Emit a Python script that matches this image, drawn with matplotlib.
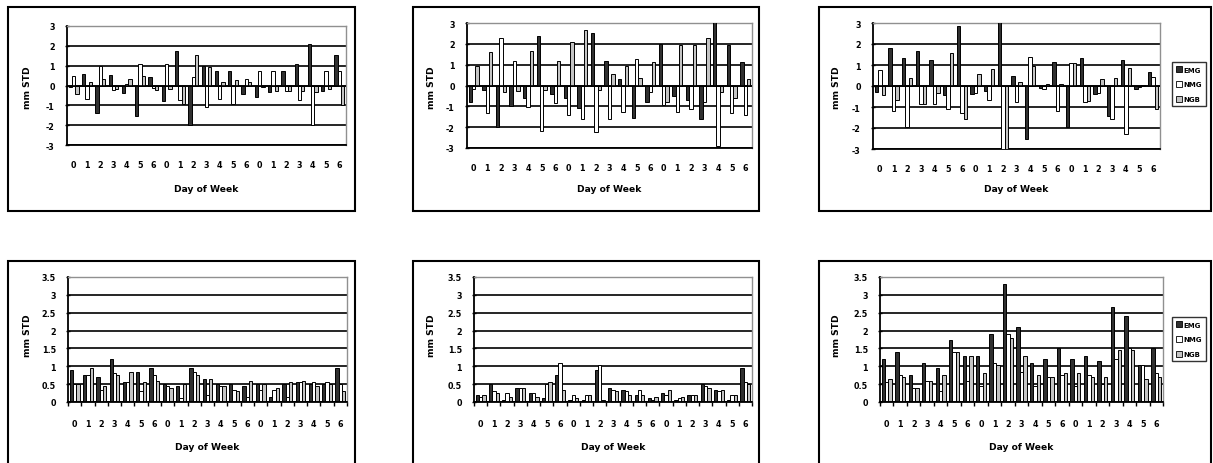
import matplotlib
matplotlib.use("Agg")
import matplotlib.pyplot as plt
from matplotlib.patches import Rectangle, Patch
import numpy as np

# ---------------- data ----------------
days = ["0", "1", "2", "3", "4", "5", "6"] * 3
series_names = ["EMG", "NMG", "NGB"]

# top row (signed deviations, mm STD)
p1_emg = [-0.1, 0.6, -1.4, 0.55, -0.4, -1.55, 0.45, -0.8, 1.75, -2.0, 1.0, 0.75, 0.75, -0.45, -0.6, -0.35, 0.75, 1.1, 2.1, -0.3, 1.55]
p1_nmg = [0.47, -0.7, 1.0, -0.25, 0.1, 1.1, -0.15, 1.1, -0.75, 0.45, -1.1, -0.7, -0.95, 0.35, 0.75, 0.75, -0.3, -0.75, -2.0, 0.75, 0.75]
p1_ngb = [-0.45, 0.2, 0.35, -0.2, 0.35, 0.5, -0.25, -0.2, -0.95, 1.55, 0.95, 0.2, 0.3, 0.2, -0.1, -0.3, -0.3, -0.3, -0.35, -0.2, -1.0]

p2_emg = [-0.8, -0.2, -2.0, -1.0, -0.6, 2.4, -0.4, -0.6, -1.1, 2.5, 1.2, 0.3, -1.55, -0.8, 2.0, -0.5, -0.7, -1.6, 3.05, 1.95, 1.15]
p2_nmg = [-0.15, -1.3, 2.3, 1.2, -1.05, -2.2, -0.85, -1.4, -1.6, -2.25, -1.6, -1.25, 1.25, -0.3, -0.95, -1.25, -1.15, -0.8, -2.9, -1.3, -1.4]
p2_ngb = [0.95, 1.6, -0.3, -0.25, 1.65, -0.2, 1.2, 2.1, 2.65, -0.2, 0.55, 0.95, 0.35, 1.15, -0.8, 1.95, 1.95, 2.3, -0.3, -0.6, 0.3]

p3_emg = [-0.3, 1.8, 1.35, 1.65, 1.25, -0.45, 2.85, -0.4, -0.25, 3.1, 0.5, -2.5, -0.1, 1.15, -1.95, 1.35, -0.4, -1.45, 1.25, -0.15, 0.65]
p3_nmg = [0.75, -1.2, -1.95, -0.85, -0.85, -1.1, -1.3, -0.35, -0.65, -3.0, -0.75, 1.4, -0.15, -1.2, 1.1, -0.75, -0.35, -1.55, -2.3, -0.05, 0.45]
p3_ngb = [-0.45, -0.65, 0.4, -0.85, -0.35, 1.55, -1.55, 0.55, 0.8, -3.0, 0.2, 0.95, 0.1, 0.1, 1.1, -0.7, 0.35, 0.4, 0.85, 0.05, -1.1]

# bottom row (absolute values, mm STD)
p4_emg = [0.9, 0.75, 0.7, 1.2, 0.55, 0.85, 0.95, 0.5, 0.45, 0.95, 0.65, 0.5, 0.5, 0.45, 0.5, 0.15, 0.5, 0.55, 0.5, 0.5, 0.95]
p4_nmg = [0.5, 0.75, 0.35, 0.8, 0.55, 0.3, 0.75, 0.45, 0.1, 0.85, 0.2, 0.45, 0.35, 0.15, 0.35, 0.35, 0.15, 0.55, 0.55, 0.55, 0.5]
p4_ngb = [0.5, 0.95, 0.45, 0.75, 0.85, 0.55, 0.6, 0.4, 0.5, 0.75, 0.65, 0.45, 0.3, 0.6, 0.5, 0.4, 0.55, 0.6, 0.45, 0.5, 0.3]

p5_emg = [0.2, 0.5, 0.05, 0.4, 0.25, 0.1, 0.75, 0.05, 0.05, 0.9, 0.4, 0.35, 0.2, 0.1, 0.25, 0.05, 0.2, 0.5, 0.35, 0.05, 0.95]
p5_nmg = [0.15, 0.3, 0.25, 0.4, 0.25, 0.5, 1.1, 0.2, 0.2, 1.05, 0.35, 0.3, 0.35, 0.05, 0.2, 0.1, 0.2, 0.45, 0.3, 0.2, 0.55]
p5_ngb = [0.2, 0.25, 0.15, 0.4, 0.15, 0.55, 0.35, 0.1, 0.2, 0.05, 0.3, 0.2, 0.2, 0.15, 0.35, 0.15, 0.2, 0.4, 0.35, 0.2, 0.5]

p6_emg = [1.2, 1.4, 0.75, 1.1, 0.95, 1.75, 1.3, 1.3, 1.9, 3.3, 2.1, 1.1, 1.2, 1.5, 1.2, 1.3, 1.15, 2.65, 2.4, 1.05, 1.5]
p6_nmg = [0.55, 0.75, 0.4, 0.6, 0.3, 1.4, 0.6, 0.45, 1.1, 1.9, 0.85, 0.45, 0.7, 0.75, 0.45, 0.75, 0.5, 1.2, 1.5, 1.05, 0.8]
p6_ngb = [0.65, 0.7, 0.4, 0.6, 0.75, 1.4, 1.3, 0.8, 1.05, 1.8, 1.3, 0.75, 0.7, 0.8, 0.8, 0.7, 0.7, 1.45, 1.45, 0.65, 0.7]

top_ticks = [-3, -2, -1, 0, 1, 2, 3]
bottom_ticks = [0, 0.5, 1, 1.5, 2, 2.5, 3, 3.5]
bottom_ticklabels = ["0", "0.5", "1", "1.5", "2", "2.5", "3", "3.5"]

# ---------------- layout ----------------
W, H = 1213, 464
fig = plt.figure(figsize=(W / 100, H / 100), dpi=100)
fig.patch.set_facecolor("white")

FONT = "DejaVu Sans"
colors = ["#303030", "#ffffff", "#c4c4c4"]


def rect(x0, y0, x1, y1):
    return [x0 / W, 1 - y1 / H, (x1 - x0) / W, (y1 - y0) / H]


panels = [
    dict(data=(p1_emg, p1_nmg, p1_ngb), plot=(67, 27, 346, 146), frame=(8, 8, 355, 212), top=True, legend=False, ylx=27, yly=88, xly=190),
    dict(data=(p2_emg, p2_nmg, p2_ngb), plot=(467, 24, 752, 149), frame=(413, 8, 759, 212), top=True, legend=False, ylx=432, yly=88, xly=190),
    dict(data=(p3_emg, p3_nmg, p3_ngb), plot=(873, 24, 1160, 150), frame=(819, 8, 1211, 212), top=True, legend=True, ylx=836, yly=88, xly=190, leg=(1172, 63)),
    dict(data=(p4_emg, p4_nmg, p4_ngb), plot=(68, 278, 347, 403), frame=(8, 262, 355, 470), top=False, legend=False, ylx=27, yly=336, xly=448),
    dict(data=(p5_emg, p5_nmg, p5_ngb), plot=(474, 278, 752, 403), frame=(413, 262, 759, 470), top=False, legend=False, ylx=432, yly=336, xly=448),
    dict(data=(p6_emg, p6_nmg, p6_ngb), plot=(880, 278, 1163, 403), frame=(819, 262, 1211, 470), top=False, legend=True, ylx=836, yly=336, xly=448, leg=(1172, 318)),
]

n = len(days)
x = np.arange(n)
bw = 0.25
offsets = [-bw, 0.0, bw]

for p in panels:
    fx0, fy0, fx1, fy1 = p["frame"]
    fig.patches.append(Rectangle((fx0 / W, 1 - fy1 / H), (fx1 - fx0) / W, (fy1 - fy0) / H,
                                 transform=fig.transFigure, fill=False, edgecolor="black", lw=1.5, zorder=0))
    ax = fig.add_axes(rect(*p["plot"]))
    ax.set_facecolor("white")
    for vals, off, c, name in zip(p["data"], offsets, colors, series_names):
        ax.bar(x + off, vals, width=bw, color=c, edgecolor="black", linewidth=0.7, zorder=3, label=name)
    ax.set_xlim(-0.5, n - 0.5)
    if p["top"]:
        ticks = top_ticks
        ax.set_ylim(-3, 3)
        ax.set_yticks(ticks)
        ax.set_yticklabels([str(t) for t in ticks])
        for t in ticks[:-1]:
            ax.axhline(t, color="black", lw=1.2, zorder=1)
        ax.axhline(0, color="black", lw=1.2, zorder=4)
        ax.set_xticks(x)
        ax.set_xticklabels(days)
        ax.tick_params(axis="x", length=0, pad=11)
    else:
        ticks = bottom_ticks
        ax.set_ylim(0, 3.5)
        ax.set_yticks(ticks)
        ax.set_yticklabels(bottom_ticklabels)
        for t in ticks[:-1]:
            ax.axhline(t, color="black", lw=1.2, zorder=1)
        ax.axhline(0, color="black", lw=1.4, zorder=4)
        ax.set_xticks(x)
        ax.set_xticklabels(days)
        ax.set_xticks(np.arange(-0.5, n, 1.0), minor=True)
        ax.tick_params(axis="x", which="major", length=0, pad=12)
        ax.tick_params(axis="x", which="minor", length=3, width=1.0, direction="out", color="black")
    ax.tick_params(axis="y", length=3.5, width=1.0, direction="inout", pad=7)
    for lab in ax.get_xticklabels() + ax.get_yticklabels():
        lab.set_fontfamily(FONT)
        lab.set_fontweight("bold")
        lab.set_fontsize(5.8)
    for s in ["top", "right"]:
        ax.spines[s].set_color("#909090")
        ax.spines[s].set_linewidth(1.0)
    ax.spines["bottom"].set_color("black")
    ax.spines["bottom"].set_linewidth(1.3)
    ax.spines["left"].set_color("black")
    ax.spines["left"].set_linewidth(1.3)

    px0, py0, px1, py1 = p["plot"]
    fig.text(((px0 + px1) / 2) / W, 1 - p["xly"] / H, "Day of Week", ha="center", va="center",
             fontsize=6.6, fontweight="bold", family=FONT)
    fig.text(p["ylx"] / W, 1 - p["yly"] / H, "mm STD", ha="center", va="center", rotation=90,
             fontsize=6.6, fontweight="bold", family=FONT)

    if p["legend"]:
        lx, ly = p["leg"]
        handles = [Patch(facecolor=c, edgecolor="black", linewidth=0.6) for c in colors]
        leg = ax.legend(handles, series_names, loc="upper left", bbox_to_anchor=(lx / W, 1 - ly / H),
                        bbox_transform=fig.transFigure, frameon=True, fancybox=False,
                        prop=dict(family=FONT, size=5, weight="bold"), handlelength=0.8, handleheight=1.0,
                        handletextpad=0.3, labelspacing=1.2, borderpad=0.6, borderaxespad=0)
        leg.get_frame().set_edgecolor("black")
        leg.get_frame().set_linewidth(1.0)

fig.savefig("out.png", dpi=100, facecolor="white")
